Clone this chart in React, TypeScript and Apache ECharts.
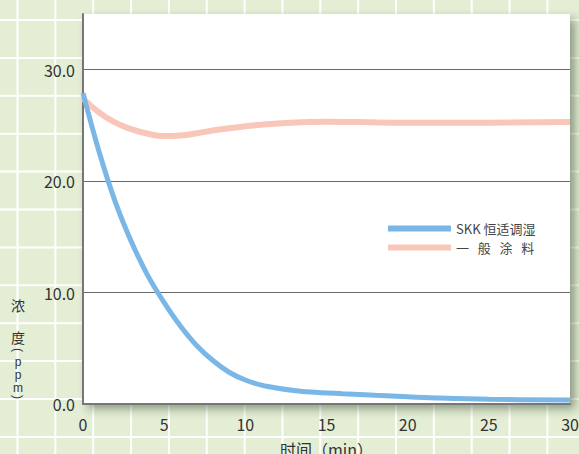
import React, { useEffect, useRef } from "react";
import * as echarts from "echarts";

const seriesNames = ["SKK 恒适调湿", "一   般   涂   料"];
const skkX = [0, 1, 2, 3, 4, 5, 6, 7, 8, 9, 10, 11, 12, 13, 14, 16, 18, 20, 22, 25, 30];
const skkY = [27.9, 22.6, 18.1, 14.5, 11.5, 9.1, 7.0, 5.25, 3.9, 2.85, 2.15, 1.7, 1.42, 1.22, 1.08, 0.92, 0.78, 0.65, 0.53, 0.42, 0.35];
const paintX = [0, 1, 2, 3, 4, 5, 6, 7, 8, 9, 10, 11, 12, 14, 15, 17, 20, 25, 30];
const paintY = [27.4, 26.15, 25.25, 24.65, 24.25, 24.05, 24.1, 24.3, 24.55, 24.75, 24.92, 25.07, 25.18, 25.3, 25.33, 25.3, 25.25, 25.25, 25.3];
const xTicks = [0, 5, 10, 15, 20, 25, 30];
const yTicks = [0, 10, 20, 30];
const yNameParts = ["浓", "度", "(", "p\np\nm", ")"];
const xName = "时间（min）";

const FONT = "'Noto Sans CJK SC', 'Noto Sans', sans-serif";
const LATIN = "'Liberation Sans', 'DejaVu Sans', sans-serif";

export default function App() {
  const ref = useRef<HTMLDivElement>(null);
  useEffect(() => {
    if (!ref.current) return;
    const chart = echarts.init(ref.current, null, { renderer: "svg" });

    const bg: any[] = [];
    for (let x = 17.5; x < 579; x += 37.85) {
      bg.push({ type: "line", z: -10, silent: true, shape: { x1: x, y1: 0, x2: x, y2: 454 }, style: { stroke: "#ffffff", lineWidth: 2 } });
    }
    for (let y = 20; y < 454; y += 37.9) {
      bg.push({ type: "line", z: -10, silent: true, shape: { x1: 0, y1: y, x2: 579, y2: y }, style: { stroke: "#ffffff", lineWidth: 2 } });
    }
    const yPos = [305, 337, 350, 375, 397];
    const yName = yNameParts.map((c, i) => ({
      type: "text",
      x: 18,
      y: yPos[i],
      rotation: c === "(" || c === ")" ? -Math.PI / 2 : 0,
      style: {
        text: c,
        fontSize: i < 2 ? 14 : 12,
        lineHeight: 13.3,
        fontFamily: i < 2 ? FONT : LATIN,
        fill: "#333",
        align: "center",
        verticalAlign: "middle",
      },
    }));

    chart.setOption({
      animation: false,
      backgroundColor: "#e3eed5",
      textStyle: { fontFamily: FONT },
      graphic: [...bg, ...yName],
      grid: {
        left: 83,
        top: 14,
        right: 9,
        bottom: 50,
        outerBoundsMode: "none",
        containLabel: false,
        show: true,
        backgroundColor: "#ffffff",
        borderWidth: 0,
        shadowBlur: 10,
        shadowColor: "rgba(40,50,30,0.45)",
        shadowOffsetX: 5,
        shadowOffsetY: 5,
      },
      legend: {
        orient: "vertical",
        left: 383,
        top: 217,
        itemWidth: 63,
        itemHeight: 6,
        itemGap: 6,
        icon: "rect",
        data: seriesNames,
        textStyle: { fontSize: 13, color: "#444", fontFamily: FONT },
      },
      xAxis: {
        type: "value",
        min: xTicks[0],
        max: xTicks[xTicks.length - 1],
        interval: xTicks[1] - xTicks[0],
        name: xName,
        nameLocation: "middle",
        nameGap: 37,
        nameTextStyle: { fontSize: 16, color: "#333", fontFamily: FONT },
        axisLine: { show: true, lineStyle: { color: "#777", width: 2 } },
        axisTick: { show: false },
        splitLine: { show: false },
        axisLabel: { fontSize: 16, color: "#333", margin: 12, fontFamily: FONT },
      },
      yAxis: {
        type: "value",
        min: yTicks[0],
        max: 35,
        interval: yTicks[1] - yTicks[0],
        axisLine: { show: true, lineStyle: { color: "#777", width: 2 } },
        axisTick: { show: false },
        splitLine: { show: true, showMinLine: false, showMaxLine: false, lineStyle: { color: "#6b6b6b", width: 1 } },
        axisLabel: {
          fontSize: 16,
          color: "#333",
          margin: 8,
          padding: [6, 0, 0, 0],
          showMaxLabel: false,
          fontFamily: FONT,
          formatter: (v: number) => (yTicks.includes(v) ? v.toFixed(1) : ""),
        },
      },
      series: [
        {
          name: seriesNames[1],
          type: "line",
          smooth: 0.5,
          showSymbol: false,
          color: "#f9c7ba",
          lineStyle: { width: 6, color: "#f9c7ba" },
          data: paintX.map((x, i) => [x, paintY[i]]),
          z: 2,
        },
        {
          name: seriesNames[0],
          type: "line",
          smooth: 0.35,
          showSymbol: false,
          color: "#7ab7e6",
          lineStyle: { width: 5, color: "#7ab7e6" },
          data: skkX.map((x, i) => [x, skkY[i]]),
          z: 3,
        },
      ],
    });
    return () => chart.dispose();
  }, []);
  return <div ref={ref} style={{ position: "fixed", left: 0, top: 0, width: 579, height: 454 }} />;
}
